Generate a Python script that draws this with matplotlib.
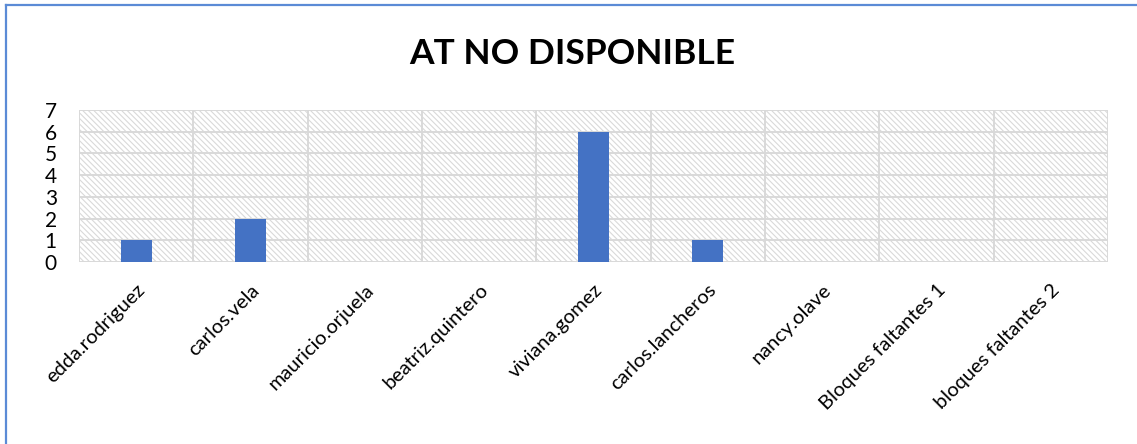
import matplotlib.pyplot as plt
import numpy as np
from matplotlib.patches import Rectangle
from matplotlib.lines import Line2D

usuarios = ['edda.rodriguez', 'carlos.vela', 'mauricio.orjuela', 'beatriz.quintero',
            'viviana.gomez', 'carlos.lancheros', 'nancy.olave', 'Bloques faltantes 1',
            'bloques faltantes 2']
cantidad = [1, 2, 0, 0, 6, 1, 0, 0, 0]
y_ticks = [0, 1, 2, 3, 4, 5, 6, 7]

plt.rcParams['font.family'] = ['Lato', 'DejaVu Sans']
plt.rcParams['hatch.color'] = '#d9d9d9'
plt.rcParams['hatch.linewidth'] = 0.8

fig = plt.figure(figsize=(11.37, 4.44), dpi=100)
ax = fig.add_axes([0.0695, 0.41, 0.905, 0.342])

x = np.arange(len(usuarios))
ax.set_xlim(-0.5, len(usuarios) - 0.5)
ax.set_ylim(0, 7)

# hatched background like the Excel plot area
ax.add_patch(Rectangle((0, 0), 1, 1, transform=ax.transAxes, facecolor='white',
                       edgecolor='#d9d9d9', hatch='\\\\\\\\\\\\', linewidth=0, zorder=0))

grid_c = '#d9d9d9'
for v in y_ticks:
    ax.axhline(v, color=grid_c, lw=1.4, zorder=1)
for b in np.arange(-0.5, len(usuarios), 1):
    ax.axvline(b, color=grid_c, lw=1.4, zorder=1)

ax.bar(x, cantidad, width=0.27, color='#4472c4', zorder=3)

for s in ax.spines.values():
    s.set_visible(False)

ax.set_yticks(y_ticks)
ax.set_yticklabels([str(v) for v in y_ticks], fontsize=15)
ax.set_xticks(x)
ax.set_xticklabels(usuarios, rotation=45, ha='right', va='top', rotation_mode='anchor', fontsize=14.5)
ax.tick_params(axis='y', length=0, pad=16)
ax.tick_params(axis='x', length=0, pad=14)

fig.suptitle('AT NO DISPONIBLE', x=0.503, y=0.915, fontsize=25.5, fontweight='bold')

# chart frame lines
fig.add_artist(Line2D([0.0055, 0.0055], [0, 0.989], color='#5b8bd6', lw=1.6, transform=fig.transFigure))
fig.add_artist(Line2D([0.0055, 1], [0.989, 0.989], color='#5b8bd6', lw=1.6, transform=fig.transFigure))

fig.savefig('out.png', dpi=100)
